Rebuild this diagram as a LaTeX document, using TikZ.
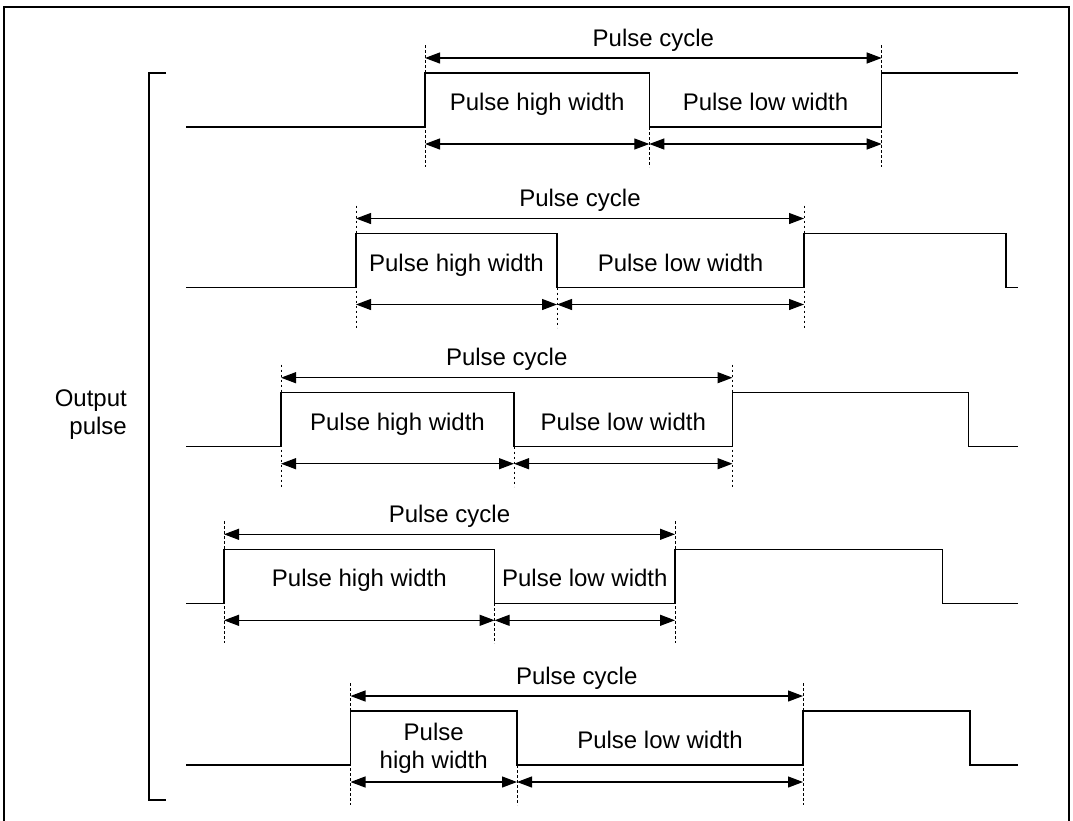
\documentclass[tikz,border=0pt]{standalone}
\usepackage{fontspec}
\setmainfont{Liberation Sans}
\usetikzlibrary{arrows.meta}
\tikzset{
  wave/.style={line width=1.3pt, line join=miter},
  guide/.style={line width=1pt, dash pattern=on 2.5pt off 2.5pt},
  dimarrow/.style={line width=1.2pt, {Triangle[length=15pt,width=11pt]}-{Triangle[length=15pt,width=11pt]}},
  lbl/.style={font=\fontsize{24}{28}\selectfont, inner sep=0pt, anchor=base},
  frameline/.style={line width=1.8pt},
}
\begin{document}
\begin{tikzpicture}[x=1pt,y=-1pt]
\useasboundingbox (0,0) rectangle (1073,820);
\clip (0,0) rectangle (1073,820);
% outer frame
\draw[frameline] (4,840) -- (4,7.3) -- (1069.3,7.3) -- (1069.3,840);
% bracket
\coordinate (bt) at (166,73);
\coordinate (bb) at (166,800);
\draw[wave] (bt) -- (149,73) -- (149,800) -- (bb);
\node[lbl, anchor=base east] (out1) at (127,406) {Output};
\node[lbl, anchor=base east] (out2) at (127,434) {pulse};
% rows: index / low y / rise / fall / rise2 / fall2
\foreach \r/\L/\a/\b/\c in {1/127/425/649.3/881.7, 2/287.5/356/557/804, 3/446.7/281/514/732.5, 4/603.3/224/494.6/675, 5/765/350.5/517/803}{
  \pgfmathsetmacro{\H}{\L-54}
  \pgfmathsetmacro{\gt}{\L-82}
  \pgfmathsetmacro{\gb}{\L+40}
  \pgfmathsetmacro{\cy}{\L-69}
  \pgfmathsetmacro{\wy}{\L+17}
  \coordinate (s\r) at (186,\L);
  \coordinate (ra\r) at (\a,\L);
  \coordinate (ha\r) at (\a,\H);
  \coordinate (hb\r) at (\b,\H);
  \coordinate (lb\r) at (\b,\L);
  \coordinate (rc\r) at (\c,\L);
  \coordinate (hc\r) at (\c,\H);
  % guides
  \coordinate (gat\r) at (\a,\gt); \coordinate (gab\r) at (\a,\gb);
  \coordinate (gbb\r) at (\b,\gb);
  \coordinate (gct\r) at (\c,\gt); \coordinate (gcb\r) at (\c,\gb);
  \draw[guide] (gat\r) -- (gab\r);
  \draw[guide] (lb\r) -- (gbb\r);
  \draw[guide] (gct\r) -- (gcb\r);
  % dimension arrows
  \coordinate (ca\r) at (\a,\cy); \coordinate (cc\r) at (\c,\cy);
  \coordinate (wa\r) at (\a,\wy); \coordinate (wb\r) at (\b,\wy); \coordinate (wc\r) at (\c,\wy);
  \draw[dimarrow] (ca\r) -- (cc\r);
  \draw[dimarrow] (wa\r) -- (wb\r);
  \draw[dimarrow] (wb\r) -- (wc\r);
  % labels
  \pgfmathsetmacro{\mac}{(\a+\c)/2}
  \pgfmathsetmacro{\mbc}{(\b+\c)/2}
  \pgfmathsetmacro{\cyl}{\L-81}
  \pgfmathsetmacro{\wyl}{\L-16.5}
  \node[lbl] (cyc\r) at (\mac,\cyl) {Pulse cycle};
  \node[lbl] (low\r) at (\mbc,\wyl) {Pulse low width};
}
% waveforms
\draw[wave] (s1) -- (ra1) -- (ha1) -- (hb1) -- (lb1) -- (rc1) -- (hc1) -- (1018,73);
\draw[wave] (s2) -- (ra2) -- (ha2) -- (hb2) -- (lb2) -- (rc2) -- (hc2) -- (1006,233.5) -- (1006,287.5) -- (1018,287.5);
\draw[wave] (s3) -- (ra3) -- (ha3) -- (hb3) -- (lb3) -- (rc3) -- (hc3) -- (968.5,392.7) -- (968.5,446.7) -- (1018,446.7);
\draw[wave] (s4) -- (ra4) -- (ha4) -- (hb4) -- (lb4) -- (rc4) -- (hc4) -- (942.7,549.3) -- (942.7,603.3) -- (1018,603.3);
\draw[wave] (s5) -- (ra5) -- (ha5) -- (hb5) -- (lb5) -- (rc5) -- (hc5) -- (970,711) -- (970,765) -- (1018,765);
% high width labels
\node[lbl] (hi1) at (537.15,110.5) {Pulse high width};
\node[lbl] (hi2) at (456.5,271) {Pulse high width};
\node[lbl] (hi3) at (397.5,430.2) {Pulse high width};
\node[lbl] (hi4) at (359.3,586.8) {Pulse high width};
\node[lbl] (hi5a) at (433.75,740) {Pulse};
\node[lbl] (hi5b) at (433.75,768) {high width};
\end{tikzpicture}
\end{document}
